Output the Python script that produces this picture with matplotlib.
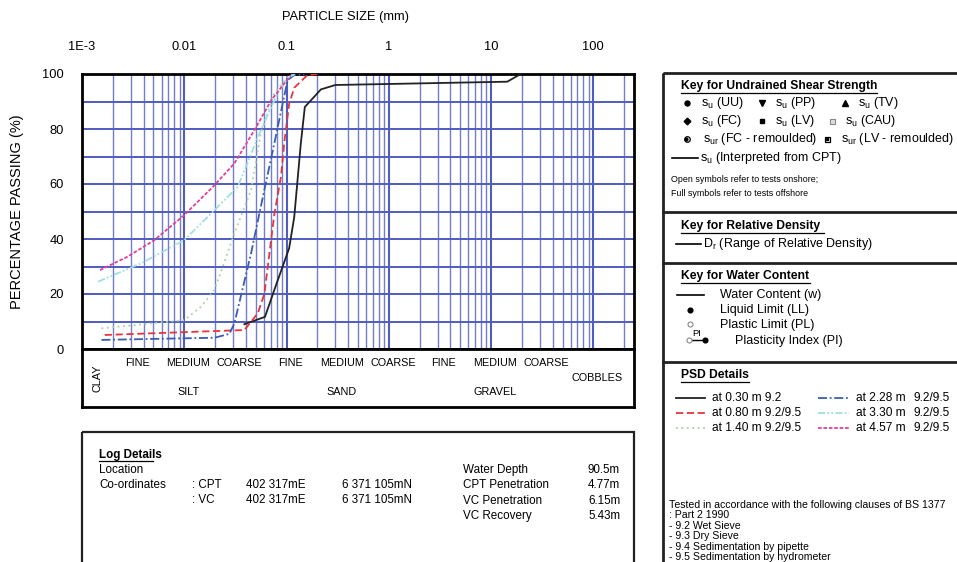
import matplotlib
matplotlib.use("Agg")
import matplotlib.pyplot as plt
from matplotlib.patches import Rectangle
import numpy as np

plt.rcParams['font.family'] = ['Liberation Sans', 'DejaVu Sans']
plt.rcParams['mathtext.default'] = 'regular'

# ---------------- data ----------------
x_tick_values = [1e-3, 1e-2, 1e-1, 1, 10, 100]
x_tick_labels = ["1E-3", "0.01", "0.1", "1", "10", "100"]
y_tick_values = [0, 20, 40, 60, 80, 100]

d_030 = [0.0387, 0.0616, 0.076, 0.106, 0.119, 0.138, 0.151, 0.217, 0.30, 14.4, 19.5]
p_030 = [9.0, 11.7, 21.5, 36.6, 48.0, 74.8, 88.0, 94.4, 96.0, 97.2, 100]

d_080 = [0.00167, 0.0387, 0.0524, 0.0607, 0.076, 0.0883, 0.095, 0.106, 0.119, 0.16, 0.2]
p_080 = [5.1, 6.9, 13.0, 20.0, 49.0, 62.7, 75.0, 89.0, 95.0, 99.6, 100]

d_140 = [0.00155, 0.01, 0.0146, 0.0198, 0.0309, 0.045, 0.056, 0.076, 0.1025, 0.12]
p_140 = [7.5, 10.5, 15.4, 21.5, 42.0, 57.8, 78.4, 93.0, 99.0, 100]

d_228 = [0.00155, 0.0198, 0.0276, 0.0309, 0.045, 0.056, 0.076, 0.1025, 0.119, 0.15]
p_228 = [3.3, 4.1, 5.5, 9.3, 34.8, 51.7, 74.8, 97.8, 99.6, 100]

d_330 = [0.00144, 0.0038, 0.01, 0.0183, 0.0334, 0.056, 0.082, 0.1025, 0.12]
p_330 = [24.5, 31.2, 39.6, 49.3, 59.0, 79.6, 93.0, 98.4, 100]

d_457 = [0.0015, 0.0028, 0.0051, 0.01, 0.0198, 0.0309, 0.0485, 0.071, 0.11]
p_457 = [28.7, 33.6, 39.6, 48.7, 59.6, 67.5, 79.6, 90.5, 99.6]

series_depths = ["at 0.30 m", "at 0.80 m", "at 1.40 m", "at 2.28 m", "at 3.30 m", "at 4.57 m"]
series_tests = ["9.2", "9.2/9.5", "9.2/9.5", "9.2/9.5", "9.2/9.5", "9.2/9.5"]

# classification strip: (label, lower bound, upper bound)
sub_classes = [("FINE", 0.002, 0.006), ("MEDIUM", 0.006, 0.02), ("COARSE", 0.02, 0.06),
               ("FINE", 0.06, 0.2), ("MEDIUM", 0.2, 0.6), ("COARSE", 0.6, 2),
               ("FINE", 2, 6), ("MEDIUM", 6, 20), ("COARSE", 20, 60)]
main_classes = [("SILT", 0.006, 0.02), ("SAND", 0.2, 0.6), ("GRAVEL", 6, 20)]

# ---------------- figure ----------------
W, H = 957, 562
fig = plt.figure(figsize=(W / 100, H / 100), dpi=100)
fig.patch.set_facecolor('white')

def rect(l, t, r, b):
    return [l / W, 1 - b / H, (r - l) / W, (b - t) / H]

ov = fig.add_axes([0, 0, 1, 1], zorder=0)
ov.set_xlim(0, W)
ov.set_ylim(H, 0)
ov.axis('off')

GRID = '#4f5cc0'
ax = fig.add_axes(rect(82, 74, 634, 349), zorder=2)
ax.set_xscale('log')
ax.set_xlim(1e-3, 250)
ax.set_ylim(0, 100)
minor = [m * 10.0 ** k for k in range(-3, 3) for m in range(2, 10) if m * 10.0 ** k < 250]
for v in minor:
    ax.axvline(v, color=GRID, lw=1.0, alpha=0.8, zorder=1)
for v in x_tick_values:
    ax.axvline(v, color=GRID, lw=1.5, zorder=1)
for v in range(10, 100, 10):
    ax.axhline(v, color=GRID, lw=1.4, zorder=1)
ax.xaxis.tick_top()
ax.set_xticks(x_tick_values)
ax.set_xticklabels(x_tick_labels, fontsize=9.3)
ax.xaxis.set_minor_locator(matplotlib.ticker.NullLocator())
ax.set_yticks(y_tick_values)
ax.set_yticklabels([str(v) for v in y_tick_values], fontsize=9.3)
ax.tick_params(axis='x', length=0, pad=15)
ax.tick_params(axis='y', length=0, pad=13)
for s in ax.spines.values():
    s.set_linewidth(2)
    s.set_color('black')

styles = [
    dict(color='#222222', lw=1.3, ls='-'),
    dict(color='#e8343c', lw=1.3, ls=(0, (4, 2))),
    dict(color='#a8d4a0', lw=1.3, ls=(0, (1, 2))),
    dict(color='#3a5cb4', lw=1.3, ls=(0, (5, 1.5, 1, 1.5))),
    dict(color='#9edfe4', lw=1.3, ls=(0, (4, 1.2, 1, 1.2, 1, 1.2))),
    dict(color='#e0409c', lw=1.3, ls=(0, (2, 1))),
]
data = [(d_030, p_030), (d_080, p_080), (d_140, p_140),
        (d_228, p_228), (d_330, p_330), (d_457, p_457)]
for (d, p), st in zip(data, styles):
    ax.plot(d, p, zorder=3, **st)

fig.text(345 / W, 1 - 17 / H, "PARTICLE SIZE (mm)", ha='center', va='center', fontsize=9.3)
fig.text(17 / W, 1 - 212 / H, "PERCENTAGE PASSING (%)", ha='center', va='center',
         rotation=90, fontsize=10.5)

# classification strip
sx = fig.add_axes(rect(82, 349, 634, 407), zorder=2)
sx.set_xscale('log')
sx.set_xlim(1e-3, 250)
sx.set_ylim(1, 0)
sx.set_xticks([]); sx.set_yticks([])
sx.xaxis.set_minor_locator(matplotlib.ticker.NullLocator())
for s in sx.spines.values():
    s.set_linewidth(2)
for lab, lo, hi in sub_classes:
    sx.text(np.sqrt(lo * hi), 0.24, lab, ha='center', va='center', fontsize=7.8)
for lab, lo, hi in main_classes:
    sx.text(np.sqrt(lo * hi), 0.74, lab, ha='center', va='center', fontsize=7.8)
sx.text(np.sqrt(60 * 200), 0.5, "COBBLES", ha='center', va='center', fontsize=7.8)
sx.text(np.sqrt(0.001 * 0.002), 0.5, "CLAY", ha='center', va='center', fontsize=7.8, rotation=90)

# log details box
ov.add_patch(Rectangle((82, 432), 552, 150, fill=False, lw=1.6, ec='#222222'))
fs = 8.4
ov.text(99, 455, "Log Details", fontsize=fs, fontweight='bold', va='center')
ov.plot([99, 153], [461, 461], color='black', lw=0.9)
ov.text(99, 470, "Location", fontsize=fs, va='center')
ov.text(99, 485, "Co-ordinates", fontsize=fs, va='center')
ov.text(192, 485, ": CPT", fontsize=fs, va='center')
ov.text(192, 500, ": VC", fontsize=fs, va='center')
ov.text(246, 485, "402 317mE", fontsize=fs, va='center')
ov.text(246, 500, "402 317mE", fontsize=fs, va='center')
ov.text(342, 485, "6 371 105mN", fontsize=fs, va='center')
ov.text(342, 500, "6 371 105mN", fontsize=fs, va='center')
for i, (k, v) in enumerate([("Water Depth", "90.5m"), ("CPT Penetration", "4.77m"),
                            ("VC Penetration", "6.15m"), ("VC Recovery", "5.43m")]):
    ov.text(463, 470 + 15.3 * i, k, fontsize=fs, va='center')
    ov.text(588, 470 + 15.3 * i, v, fontsize=fs, va='center')

# right panel
ov.add_patch(Rectangle((663, 73), 320, 520, fill=False, lw=2, ec='#222222'))
for yy in [212, 263, 362]:
    ov.plot([663, 957], [yy, yy], color='#222222', lw=2)

kf = 9.0
hf = 8.7
def header(x, y, s, w):
    ov.text(x, y, s, fontsize=hf, fontweight='bold', va='center')
    ov.plot([x, x + w], [y + 7, y + 7], color='black', lw=0.9)

header(681, 86, "Key for Undrained Shear Strength", 196)
r1 = 103
ov.plot(687, r1, 'o', color='black', ms=3.6)
ov.text(701, r1, "s$_u$ (UU)", fontsize=kf, va='center')
ov.plot(762, r1, 'v', color='black', ms=4.0)
ov.text(775, r1, "s$_u$ (PP)", fontsize=kf, va='center')
ov.plot(845, r1, '^', color='black', ms=4.0)
ov.text(858, r1, "s$_u$ (TV)", fontsize=kf, va='center')
r2 = 121
ov.plot(687, r2, 'D', color='black', ms=3.4)
ov.text(701, r2, "s$_u$ (FC)", fontsize=kf, va='center')
ov.plot(762, r2, 's', color='black', ms=3.4)
ov.text(775, r2, "s$_u$ (LV)", fontsize=kf, va='center')
ov.plot(832, r2, 's', mfc='#dddddd', mec='#888888', ms=3.6, mew=0.8)
ov.text(845, r2, "s$_u$ (CAU)", fontsize=kf, va='center')
r3 = 139
ov.plot(687, r3, 'o', mfc='white', mec='black', ms=4.0, mew=0.9)
ov.plot(686, r3, 'o', color='black', ms=2.0)
ov.text(703, r3, "s$_{ur}$ (FC - remoulded)", fontsize=kf, va='center')
ov.plot(827, r3, 's', mfc='white', mec='black', ms=3.6, mew=0.9)
ov.plot(827, r3, 's', color='black', ms=1.6)
ov.text(841, r3, "s$_{ur}$ (LV - remoulded)", fontsize=kf, va='center')
r4 = 158
ov.plot([672, 698], [r4, r4], color='black', lw=1.2)
ov.text(700, r4, "s$_u$ (Interpreted from CPT)", fontsize=kf, va='center')
ov.text(671, 180, "Open symbols refer to tests onshore;", fontsize=6.4, va='center')
ov.text(671, 193, "Full symbols refer to tests offshore", fontsize=6.4, va='center')

header(681, 226, "Key for Relative Density", 143)
ov.plot([676, 701], [244, 244], color='black', lw=1.2)
ov.text(703, 244, "D$_r$ (Range of Relative Density)", fontsize=kf, va='center')

header(681, 276, "Key for Water Content", 129)
ov.plot([677, 704], [295, 295], color='black', lw=1.2)
ov.text(720, 295, "Water Content (w)", fontsize=kf, va='center')
ov.plot(690, 310, 'o', color='black', ms=3.4)
ov.text(720, 310, "Liquid Limit (LL)", fontsize=kf, va='center')
ov.plot(690, 324, 'o', mfc='white', mec='#888888', ms=3.6, mew=0.8)
ov.text(720, 325, "Plastic Limit (PL)", fontsize=kf, va='center')
ov.plot([689, 705], [340, 340], color='black', lw=1.0)
ov.plot(689, 340, 'o', mfc='white', mec='#888888', ms=3.6, mew=0.8)
ov.plot(705, 340, 'o', color='black', ms=3.4)
ov.text(697, 334, "PI", fontsize=6.8, ha='center', va='center')
ov.text(735, 341, "Plasticity Index (PI)", fontsize=kf, va='center')

header(681, 375, "PSD Details", 68)
for i, (dep, tst, st) in enumerate(zip(series_depths, series_tests, styles)):
    col, row = divmod(i, 3)
    yy = 398 + 15 * row
    if col == 0:
        ov.plot([676, 705], [yy, yy], **st)
        ov.text(712, yy, dep + " " + tst, fontsize=8.6, va='center')
    else:
        ov.plot([818, 849], [yy, yy], **st)
        ov.text(856, yy, dep, fontsize=8.6, va='center')
        ov.text(914, yy, tst, fontsize=8.6, va='center')

notes = ["Tested in accordance with the following clauses of BS 1377",
         ": Part 2 1990", "- 9.2 Wet Sieve", "- 9.3 Dry Sieve",
         "- 9.4 Sedimentation by pipette", "- 9.5 Sedimentation by hydrometer"]
for i, t in enumerate(notes):
    ov.text(669, 505 + 10.4 * i, t, fontsize=7.6, va='center')

fig.savefig("out.png", dpi=100)
